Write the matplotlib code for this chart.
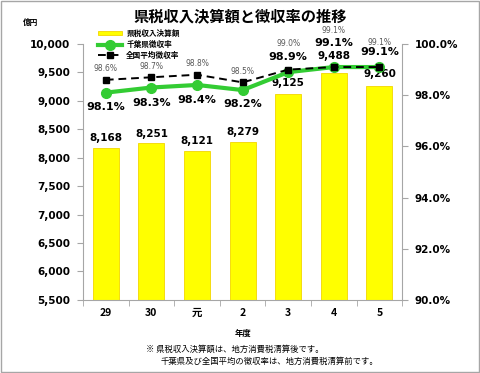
import matplotlib.pyplot as plt
from matplotlib.patches import Rectangle
from matplotlib.ticker import FuncFormatter

plt.rcParams['font.family'] = ['DejaVu Sans', 'Noto Sans CJK JP']
JP = ['Noto Sans CJK JP', 'DejaVu Sans']

years = ['29', '30', '元', '2', '3', '4', '5']
revenue = [8168, 8251, 8121, 8279, 9125, 9488, 9260]
chiba_rate = [98.1, 98.3, 98.4, 98.2, 98.9, 99.1, 99.1]
national_rate = [98.6, 98.7, 98.8, 98.5, 99.0, 99.1, 99.1]

fig = plt.figure(figsize=(4.8, 3.73), dpi=100)
ax = fig.add_axes([0.173, 0.196, 0.665, 0.686])
ax2 = ax.twinx()

x = range(len(years))
bars = ax.bar(x, revenue, width=0.57, color='#ffff00', edgecolor='#f2d600',
              linewidth=0.6, label='県税収入決算額', zorder=2)
ax.set_ylim(5500, 10000)
ax.set_yticks(range(5500, 10001, 500))
ax.yaxis.set_major_formatter(FuncFormatter(lambda v, p: f'{int(v):,}'))
ax.set_xlim(-0.5, len(years) - 0.5)
ax.set_xticks(list(x))
ax.set_xticklabels(years, family=JP, fontweight='bold', fontsize=7.5)
ax.set_xticks([i + 0.5 for i in range(-1, len(years))], minor=True)
ax.tick_params(axis='x', which='major', length=0, pad=6)
ax.tick_params(axis='x', which='minor', length=4, color='#a6a6a6', direction='out')
ax.tick_params(axis='y', labelsize=7.5, length=4, color='#a6a6a6', pad=5)
for t in ax.get_yticklabels():
    t.set_fontweight('bold')
ax.set_xlabel('年度', family=JP, fontsize=6, fontweight='bold', labelpad=8)

ln1, = ax2.plot(x, chiba_rate, color='#33cc33', lw=3, marker='o', ms=7,
                label='千葉県徴収率', zorder=4)
ln2, = ax2.plot(x, national_rate, color='black', lw=1.4, ls=(0, (4, 2.5)),
                marker='s', ms=5, label='全国平均徴収率', zorder=5)
ax2.set_ylim(90, 100)
ax2.set_yticks([90, 92, 94, 96, 98, 100])
ax2.yaxis.set_major_formatter(FuncFormatter(lambda v, p: f'{v:.1f}%'))
ax2.tick_params(axis='y', labelsize=7.5, length=4, color='#a6a6a6', pad=5)
for t in ax2.get_yticklabels():
    t.set_fontweight('bold')

for a in (ax, ax2):
    a.spines['top'].set_visible(False)
    for s in ('left', 'right', 'bottom'):
        a.spines[s].set_color('#a6a6a6')
ax.spines['right'].set_visible(False)
ax2.spines['left'].set_visible(False)
ax2.spines['bottom'].set_visible(False)

# label offsets in points
bar_off = [7, 7, 7, 7, 8, 12, 9]
for i, v in enumerate(revenue):
    ax.annotate(f'{v:,}', (i, v), xytext=(0, bar_off[i]), textcoords='offset points',
                ha='center', va='center', fontsize=7.5, fontweight='bold')

chiba_off = [-10, -11, -11, -10, 11, 17, 11]
for i, v in enumerate(chiba_rate):
    ax2.annotate(f'{v:.1f}%', (i, v), xytext=(0, chiba_off[i]), textcoords='offset points',
                 ha='center', va='center', fontsize=8, fontweight='bold', zorder=6)

nat_off = [8, 8, 8, 8, 19, 26, 18]
for i, v in enumerate(national_rate):
    ax2.annotate(f'{v:.1f}%', (i, v), xytext=(0, nat_off[i]),
                 textcoords='offset points', ha='center', va='center',
                 fontsize=5.5, color='#595959')

leg = ax2.legend([bars, ln1, ln2], ['県税収入決算額', '千葉県徴収率', '全国平均徴収率'],
                 loc='upper left', bbox_to_anchor=(0.03, 1.08), frameon=False,
                 prop={'family': JP, 'size': 5.5, 'weight': 'bold'},
                 handlelength=3.2, handleheight=0.3, labelspacing=0.25, borderpad=0.2,
                 handletextpad=0.5)

fig.text(0.5, 0.955, '県税収入決算額と徴収率の推移', family=JP, fontsize=11,
         fontweight='bold', ha='center', va='center')
fig.text(0.063, 0.94, '億円', family=JP, fontsize=5.5, fontweight='bold', ha='center', va='center')
fig.text(0.305, 0.064, '※ 県税収入決算額は、地方消費税清算後です。', family=JP, fontsize=6,
         ha='left', va='center')
fig.text(0.334, 0.032, '千葉県及び全国平均の徴収率は、地方消費税清算前です。', family=JP,
         fontsize=6, ha='left', va='center')

fig.patches.append(Rectangle((0.002, 0.003), 0.995, 0.993, transform=fig.transFigure,
                             fill=False, edgecolor='#a6a6a6', lw=1))

fig.savefig('out.png', dpi=100)
